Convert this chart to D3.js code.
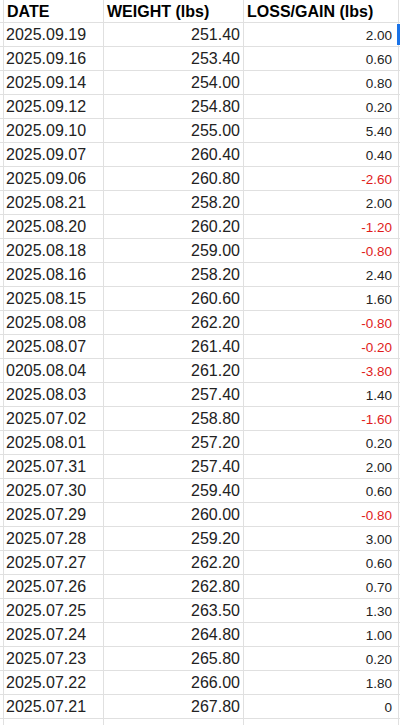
<!DOCTYPE html>
<html><head><meta charset="utf-8">
<script src="https://cdn.jsdelivr.net/npm/d3@7"></script>
<style>body{margin:0;background:#fff}</style>
</head><body>
<script>
var headers = ["DATE", "WEIGHT (lbs)", "LOSS/GAIN (lbs)"]
var dates = ["2025.09.19","2025.09.16","2025.09.14","2025.09.12","2025.09.10","2025.09.07","2025.09.06","2025.08.21","2025.08.20","2025.08.18","2025.08.16","2025.08.15","2025.08.08","2025.08.07","0205.08.04","2025.08.03","2025.07.02","2025.08.01","2025.07.31","2025.07.30","2025.07.29","2025.07.28","2025.07.27","2025.07.26","2025.07.25","2025.07.24","2025.07.23","2025.07.22","2025.07.21"]
var weights = [251.4,253.4,254,254.8,255,260.4,260.8,258.2,260.2,259,258.2,260.6,262.2,261.4,261.2,257.4,258.8,257.2,257.4,259.4,260,259.2,262.2,262.8,263.5,264.8,265.8,266,267.8]
var changes = [2,0.6,0.8,0.2,5.4,0.4,-2.6,2,-1.2,-0.8,2.4,1.6,-0.8,-0.2,-3.8,1.4,-1.6,0.2,2,0.6,-0.8,3,0.6,0.7,1.3,1,0.2,1.8,0]

var W = 400, H = 725, headH = 22, rowH = 24
var cols = [3, 103, 243, 398]
var svg = d3.select('body').append('svg').attr('width', W).attr('height', H)
  .style('font-family', 'Liberation Sans, Arial, sans-serif')

var y = d3.scaleBand().domain(d3.range(dates.length)).range([headH, headH + rowH * dates.length])

// grid
var g = svg.append('g').attr('stroke', '#e0e0e0').attr('stroke-width', 1)
g.selectAll('.h').data(d3.range(dates.length + 1)).enter().append('line')
  .attr('x1', 0).attr('x2', W)
  .attr('y1', d => Math.round(headH + rowH * d) + 0.5).attr('y2', d => Math.round(headH + rowH * d) + 0.5)
g.selectAll('.v').data(cols).enter().append('line')
  .attr('x1', d => d + 0.5).attr('x2', d => d + 0.5).attr('y1', 0).attr('y2', H)

// header
svg.selectAll('.hd').data(headers).enter().append('text')
  .attr('x', (d, i) => cols[i] + 4).attr('y', 17)
  .attr('font-size', 16).attr('font-weight', 'bold').attr('fill', '#000').text(d => d)

var rows = svg.selectAll('.row').data(dates).enter().append('g')
  .attr('transform', (d, i) => `translate(0,${y(i)})`)
rows.append('text').attr('x', cols[0] + 3).attr('y', 18).attr('font-size', 16).attr('fill', '#222')
  .text(d => d)
rows.append('text').attr('x', cols[2] - 3).attr('y', 18).attr('font-size', 16).attr('fill', '#222')
  .attr('text-anchor', 'end').text((d, i) => weights[i].toFixed(2))
rows.append('text').attr('x', cols[3] - 6).attr('y', 18).attr('font-size', 13.5)
  .attr('text-anchor', 'end').attr('fill', (d, i) => changes[i] < 0 ? '#e01b1b' : '#222')
  .text((d, i) => changes[i] === 0 ? '0' : changes[i].toFixed(2))

// selection marker
svg.append('rect').attr('x', 397).attr('y', headH + 2).attr('width', 3).attr('height', rowH - 3).attr('fill', '#1a73e8')
</script>
</body></html>
